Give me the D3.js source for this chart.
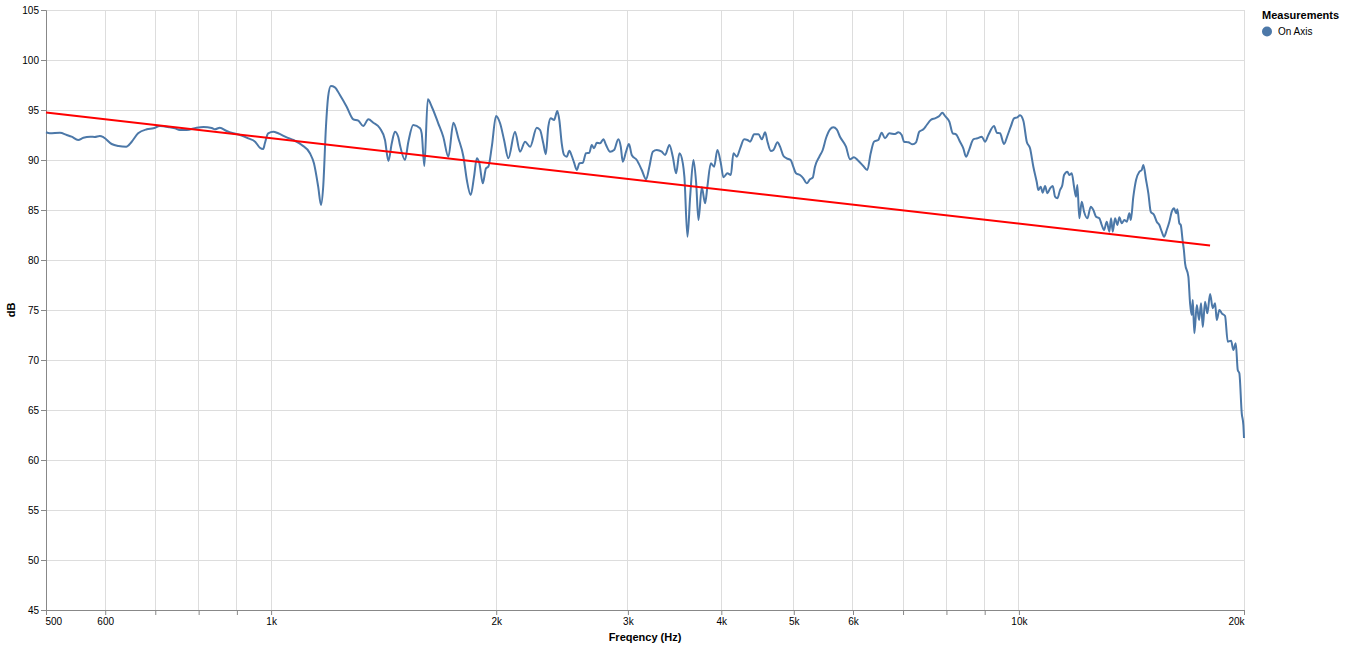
<!DOCTYPE html>
<html>
<head>
<meta charset="utf-8">
<script src="https://cdn.jsdelivr.net/npm/d3@7"></script>
<style>
  body { margin: 0; background: #fff; }
  svg { font-family: "Liberation Sans", Arial, Helvetica, sans-serif; }
</style>
</head>
<body>
<svg id="chart" width="1345" height="647"></svg>
<script>
// ---- data (frequency in Hz, level in dB) ----
const freqHz = [
  500,506,522,533,541,552,561,573,581,590,597,612,625,640,651,664,682,696,710,732,744,755,771,795,812,833,841,854,872,890,909,932,952,966,976,981,991,
  1007,1022,1049,1071,1099,1127,1141,1156,1166,1174,1184,1192,1202,1217,1236,1262,1288,1308,1328,1349,1370,1398,1420,1435,1450,1464,1479,
  1487,1510,1526,1549,1582,1590,1603,1620,1640,1673,1699,1726,1753,1780,1808,1827,1849,1868,1884,1899,1919,1938,1952,1973,1999,2024,2049,2076,2119,2152,2186,2220,2266,
  2289,2312,2330,2348,2366,2390,2414,2429,2447,2465,2485,2505,2524,2542,2563,2584,2611,2637,2664,2684,2703,2726,2754,2782,2805,2840,2875,2913,2935,2953,2983,3010,3036,3083,3131,3173,3205,3239,3279,3330,3364,3409,3445,3480,3516,3553,3570,3604,3634,3671,3702,3728,3767,3805,3832,3873,3912,3952,3994,4026,4076,4119,4152,4196,
  4239,4291,4335,4371,4425,4485,4532,4578,4611,4659,4697,4755,4793,4844,4892,4952,4992,5034,5096,5149,5203,5256,5300,5337,5409,5466,5521,5590,5647,5706,5764,5872,5945,6018,6098,6193,6270,6336,6400,6486,6554,6621,6710,6829,6898,6971,7021,7114,7211,7285,7359,7451,7529,7622,7724,7827,7900,7966,8072,8157,8240,8342,8427,8498,8585,8691,8799,8919,9010,9102,9263,9341,9436,9553,9651,9752,9852,9952,10036,10138,10245,10349,10455,
  10565,10617,10696,10762,10839,10916,11007,11099,11178,11257,11351,11432,11492,11609,11681,11767,11851,11924,11972,12046,12135,12222,12347,12477,12577,12681,12811,12906,12998,13106,13212,13281,13351,13446,13541,13625,13726,13837,13940,14052,14113,14225,14344,14491,14598,14670,14793,14898,15008,15162,15288,15411,15526,15636,15766,15893,16011,16125,16225,16290,16390,16461,16563,
  16620,16681,16851,16940,17028,17081,17165,17293,17416,17523,17615,17740,17866,18016,18166,18295,18391,18539,18677,18867,19024,19219,19355,19499,19619,19716,19862,19961,20000
];
const onAxisDb = [
  92.77,92.67,92.73,92.5,92.33,92.0,92.23,92.33,92.3,92.4,92.27,91.6,91.4,91.33,91.83,92.67,93.07,93.17,93.4,93.27,93.17,93.0,93.0,93.23,93.3,93.2,93.07,93.23,92.9,92.67,92.5,92.17,91.83,91.23,91.1,91.67,92.67,
  92.83,92.67,92.27,92.0,91.5,90.67,89.67,87.33,85.5,87.33,93.33,96.33,97.4,97.27,96.5,95.33,94.07,93.93,93.4,94.07,93.73,93.17,92.0,89.9,91.67,92.83,92.33,
  91.5,90.0,91.83,93.5,93.17,92.67,89.4,96.07,95.33,93.67,92.33,90.33,93.73,92.17,90.33,88.0,86.5,88.33,90.17,89.67,87.67,89.17,89.33,91.33,94.4,93.67,92.0,90.17,92.83,90.83,91.83,91.33,93.23,
  93.0,91.67,90.57,93.33,94.17,94.0,94.9,94.0,91.67,90.5,90.33,90.93,90.4,89.73,89.0,89.67,89.73,90.67,90.73,91.5,91.17,91.73,91.67,92.07,91.5,90.83,91.0,92.07,91.33,89.83,90.83,91.6,90.5,90.0,89.0,88.07,89.33,90.83,91.0,90.83,90.5,91.5,90.33,88.67,90.67,89.67,88.33,82.33,86.33,90.0,87.67,84.0,87.27,85.67,87.33,89.67,89.33,91.0,89.67,88.27,88.67,88.5,90.67,90.33,
  91.17,92.07,92.0,91.83,92.57,92.57,92.07,92.77,91.83,90.9,91.0,91.77,91.33,90.4,90.17,90.0,89.33,88.67,88.5,88.17,87.67,88.07,88.23,89.33,90.33,91.0,92.17,93.07,93.27,93.07,92.33,91.33,90.07,90.27,89.93,89.4,89.0,90.67,91.83,92.0,92.73,92.17,92.67,92.6,92.77,92.5,91.83,91.77,91.57,91.77,92.83,93.07,93.5,94.0,94.17,94.4,94.73,94.4,93.83,92.67,92.57,91.83,91.17,90.33,91.07,92.07,92.17,92.33,91.83,92.5,93.4,92.73,92.67,91.6,92.4,93.33,94.17,94.27,94.47,93.93,91.83,91.17,89.33,
  87.8,87.0,87.33,86.73,87.4,86.67,87.17,87.4,86.33,86.17,87.0,87.5,88.5,88.83,88.5,88.67,87.33,86.33,87.5,84.17,85.83,84.83,84.17,85.33,85.0,84.33,84.17,83.5,83.0,83.83,82.83,84.17,82.83,84.17,83.5,84.27,83.67,84.0,83.83,84.67,84.0,86.33,88.0,88.83,89.0,89.5,88.0,86.67,84.83,84.5,83.83,83.5,82.83,82.33,83.0,83.83,84.83,85.17,84.67,85.07,83.67,83.5,81.83,
  81.0,79.67,78.33,75.67,74.5,76.0,72.67,75.5,74.0,75.67,73.3,75.83,74.67,76.6,75.17,75.67,74.0,75.0,74.67,74.4,71.83,71.93,71.0,71.67,69.0,68.67,64.67,63.5,62.2
];
const trendHz = [500, 18016];
const trendDb = [94.75, 81.45];
const xDomain = [500, 20000];
const yDomain = [45, 105];
const yTicks = [45,50,55,60,65,70,75,80,85,90,95,100,105];
const seriesName = "On Axis";
const legendTitle = "Measurements";
const xTitle = "Freqency (Hz)";
const yTitle = "dB";

// ---- layout ----
const margin = {left: 46, top: 10};
const W = 1198, H = 600;
const svg = d3.select("#chart");
const g = svg.append("g").attr("transform", `translate(${margin.left},${margin.top})`);

const x = d3.scaleLog().domain(xDomain).range([0, W]);
const y = d3.scaleLinear().domain(yDomain).range([H, 0]);

const xTickVals = x.ticks();
const fmt = x.tickFormat(10, "~s");

// grid
g.append("g").selectAll("line").data(xTickVals).join("line")
  .attr("x1", d => x(d)).attr("x2", d => x(d)).attr("y1", 0).attr("y2", H)
  .attr("stroke", "#ddd").attr("stroke-width", 1).attr("shape-rendering", "crispEdges");
g.append("g").selectAll("line").data(yTicks).join("line")
  .attr("x1", 0).attr("x2", W).attr("y1", d => y(d)).attr("y2", d => y(d))
  .attr("stroke", "#ddd").attr("stroke-width", 1).attr("shape-rendering", "crispEdges");

// x axis
const xAxis = g.append("g").attr("transform", `translate(0,${H})`)
  .call(d3.axisBottom(x).tickValues(xTickVals).tickFormat(fmt).tickSize(5).tickPadding(3));
// y axis
const yAxis = g.append("g")
  .call(d3.axisLeft(y).tickValues(yTicks).tickSize(5).tickPadding(2));
[xAxis, yAxis].forEach(a => {
  a.select(".domain").attr("stroke", "#888");
  a.selectAll(".tick line").attr("stroke", "#888");
  a.selectAll(".tick text").attr("fill", "#000").attr("font-size", 10)
    .attr("font-family", "Liberation Sans, Arial, sans-serif");
});
// flush first/last x labels
xAxis.selectAll(".tick text")
  .attr("text-anchor", d => d === xDomain[0] ? "start" : (d === xDomain[1] ? "end" : "middle"))
  .attr("dx", d => d === xDomain[0] ? -1 : 0);

// titles
svg.append("text").attr("x", margin.left + W / 2).attr("y", 641)
  .attr("text-anchor", "middle").attr("font-weight", "bold").attr("font-size", 11).text(xTitle);
svg.append("text").attr("transform", `translate(15,${margin.top + H / 2}) rotate(-90)`)
  .attr("text-anchor", "middle").attr("font-weight", "bold").attr("font-size", 11).text(yTitle);

// measurement line
const n = Math.min(freqHz.length, onAxisDb.length);
const pts = d3.range(n).map(i => ({f: freqHz[i], v: onAxisDb[i]}));
g.append("path").datum(pts)
  .attr("fill", "none").attr("stroke", "#4c78a8").attr("stroke-width", 2).attr("stroke-linejoin", "round")
  .attr("d", d3.line().curve(d3.curveMonotoneX).x(d => x(d.f)).y(d => y(d.v)));

// trend line
const tpts = trendHz.map((f, i) => ({f, v: trendDb[i]}));
g.append("path").datum(tpts)
  .attr("fill", "none").attr("stroke", "red").attr("stroke-width", 2)
  .attr("d", d3.line().x(d => x(d.f)).y(d => y(d.v)));

// legend
const lg = svg.append("g").attr("transform", "translate(1262,0)");
lg.append("text").attr("x", 0).attr("y", 19).attr("font-weight", "bold").attr("font-size", 11).text(legendTitle);
lg.append("circle").attr("cx", 5).attr("cy", 31.5).attr("r", 5).attr("fill", "#4c78a8");
lg.append("text").attr("x", 16).attr("y", 35).attr("font-size", 10).text(seriesName);
</script>
</body>
</html>
